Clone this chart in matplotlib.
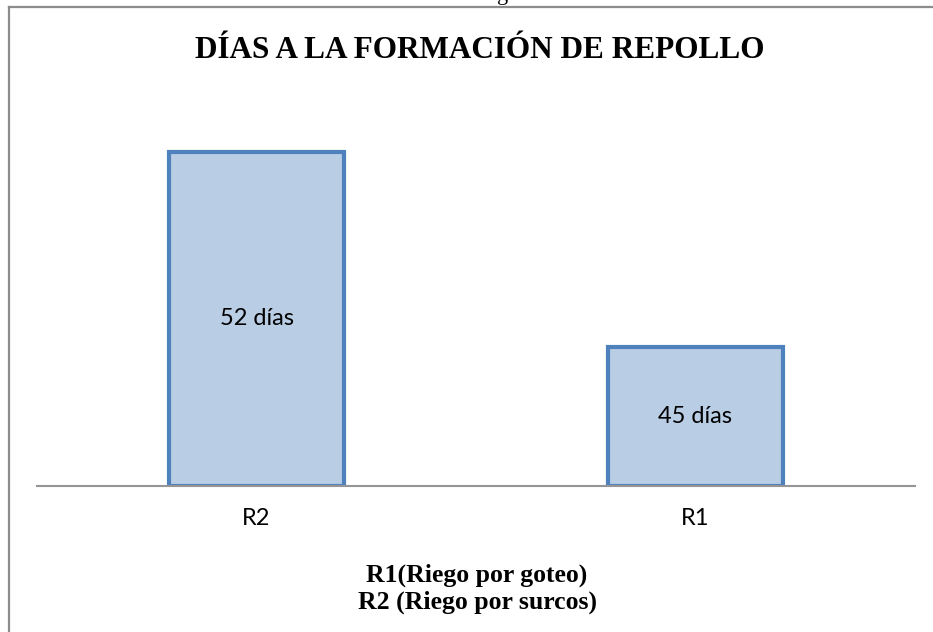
import matplotlib
matplotlib.use("Agg")
import matplotlib.pyplot as plt
from matplotlib.lines import Line2D

categories = ["R2", "R1"]
values = [52, 45]
value_labels = ["52 días", "45 días"]
title = "DÍAS A LA FORMACIÓN DE REPOLLO"
xlabel_lines = ["R1(Riego por goteo)", "R2 (Riego por surcos)"]

y_min, y_max = 40, 54

fig = plt.figure(figsize=(9.33, 6.32), dpi=100)
fig.patch.set_facecolor("white")

ax = fig.add_axes([37 / 933, 1 - 486 / 632, (915 - 37) / 933, (486 - 96) / 632])
x = list(range(len(categories)))
bars = ax.bar(x, [v - y_min for v in values], bottom=y_min, width=0.4,
              color="#B9CDE5", edgecolor="#4F81BD", linewidth=3.0, zorder=3)
ax.set_xlim(-0.5, len(categories) - 0.5)
ax.set_ylim(y_min, y_max)
for xi, v, lab in zip(x, values, value_labels):
    ax.text(xi, (y_min + v) / 2, lab, ha="center", va="center",
            fontsize=17, family="Lato", color="#000000", zorder=4)

for s in ["top", "right", "left"]:
    ax.spines[s].set_visible(False)
ax.spines["bottom"].set_color("#959595")
ax.spines["bottom"].set_linewidth(1.5)
ax.spines["bottom"].set_zorder(5)
ax.set_yticks([])
ax.set_xticks(x)
ax.set_xticklabels(categories, family="Lato", fontsize=17)
ax.tick_params(axis="x", length=0, pad=16)

fig.text(480 / 933, 1 - 50 / 632, title, ha="center", va="center",
         family="Liberation Serif", fontweight="bold", fontsize=22.5)
fig.text(477 / 933, 1 - 575 / 632, xlabel_lines[0], ha="center", va="center",
         family="Liberation Serif", fontweight="bold", fontsize=18.5)
fig.text(477 / 933, 1 - 602 / 632, xlabel_lines[1], ha="center", va="center",
         family="Liberation Serif", fontweight="bold", fontsize=18.5)

# cropped caption descender at top
fig.text(503 / 933, 1.0, "g", ha="center", va="baseline",
         family="Liberation Serif", fontsize=16)

# chart frame (left and top edges visible)
fig.add_artist(Line2D([9 / 933, 9 / 933], [0, 1 - 7 / 632], transform=fig.transFigure,
                      color="#8C8C8C", linewidth=1.6))
fig.add_artist(Line2D([9 / 933, 1], [1 - 7 / 632, 1 - 7 / 632], transform=fig.transFigure,
                      color="#8C8C8C", linewidth=1.6))

fig.savefig("out.png", dpi=100, facecolor="white")
